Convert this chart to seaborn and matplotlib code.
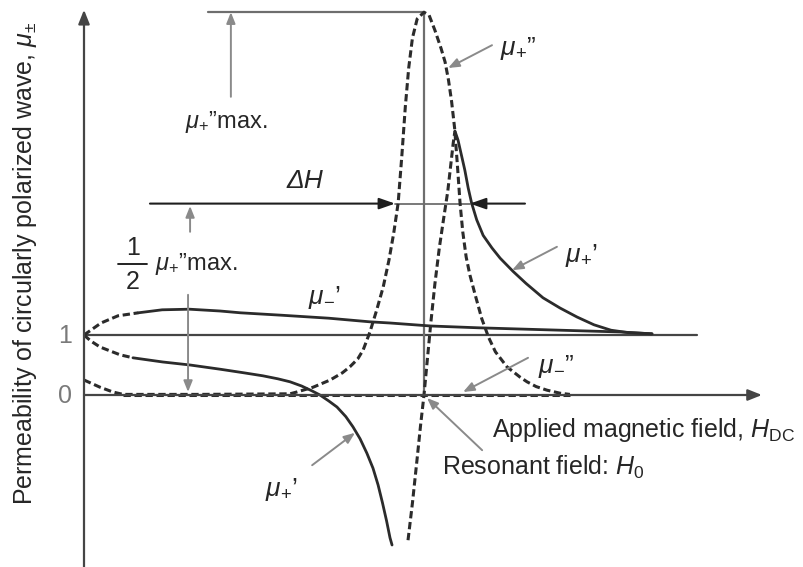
import matplotlib
matplotlib.use("Agg")
import matplotlib.pyplot as plt
import seaborn as sns

# Applied field H (arbitrary units, resonance at H0 = 10) and permeability values
H0 = 10.0

# mu_-' : dashed in the low-field region, solid above it
mu_minus_re_H_low = [0.0, 0.2, 0.5, 1.0, 1.6]
mu_minus_re_low = [1.0, 1.08, 1.2, 1.32, 1.37]
mu_minus_re_H = [1.6, 2.3, 3.1, 4.0, 4.6, 5.8, 7.2, 8.4, 9.0, 10.2, 11.6, 12.8, 14.6, 15.8, 16.7]
mu_minus_re = [1.37, 1.42, 1.43, 1.40, 1.37, 1.33, 1.28, 1.22, 1.20, 1.15, 1.12, 1.10, 1.07, 1.05, 1.02]

# mu_+' below resonance
mu_plus_re_H_low = [0.0, 0.2, 0.47, 1.06, 1.44]
mu_plus_re_low = [1.0, 0.9, 0.80, 0.67, 0.62]
mu_plus_re_below_H = [1.44, 2.32, 3.12, 4.0, 4.7, 5.26, 5.7, 6.06, 6.4, 6.7, 6.94, 7.2, 7.44, 7.7,
                      7.91, 8.12, 8.32, 8.5, 8.65, 8.78, 8.9, 9.0, 9.06]
mu_plus_re_below = [0.62, 0.55, 0.50, 0.43, 0.37, 0.32, 0.27, 0.22, 0.15, 0.07, 0.0, -0.1, -0.2, -0.36,
                    -0.53, -0.73, -0.97, -1.22, -1.5, -1.8, -2.1, -2.38, -2.5]

# mu_+' above resonance: rising branch (dashed) and falling branch (solid)
mu_plus_re_rise_H = [9.53, 9.66, 9.8, 9.9, 10.0, 10.1, 10.2, 10.32, 10.45, 10.58, 10.7, 10.79, 10.86, 10.91]
mu_plus_re_rise = [-2.42, -1.8, -1.05, -0.5, 0.0, 0.6, 1.2, 1.85, 2.45, 2.95, 3.4, 3.85, 4.2, 4.40]
mu_plus_re_fall_H = [10.91, 11.0, 11.1, 11.2, 11.3, 11.4, 11.55, 11.74, 12.0, 12.24, 12.62, 13.0, 13.5,
                     14.0, 14.5, 15.0, 15.5, 16.0, 16.71]
mu_plus_re_fall = [4.40, 4.25, 4.0, 3.75, 3.45, 3.2, 2.92, 2.66, 2.45, 2.28, 2.06, 1.86, 1.62,
                   1.45, 1.3, 1.17, 1.08, 1.04, 1.02]

# mu_+'' : absorption peak at the resonant field
mu_plus_im_H = [0.0, 0.47, 0.85, 1.15, 3.4, 6.06, 6.26, 6.74, 7.24, 7.6, 7.82, 8.05, 8.21, 8.41,
                8.6, 8.8, 8.97, 9.11, 9.24, 9.35, 9.45, 9.55, 9.66, 9.8, 10.0, 10.15, 10.32,
                10.5, 10.62, 10.72, 10.81, 10.9, 10.98, 11.06, 11.14, 11.24, 11.35, 11.5, 11.7,
                11.9, 12.1, 12.44, 12.82, 13.03, 13.3, 13.62, 14.0, 14.29]
mu_plus_im = [0.25, 0.13, 0.05, 0.01, 0.01, 0.02, 0.05, 0.13, 0.25, 0.37, 0.47, 0.6, 0.75, 1.05,
              1.4, 1.8, 2.25, 2.7, 3.2, 4.0, 4.8, 5.45, 5.95, 6.27, 6.38, 6.33, 6.08,
              5.78, 5.55, 5.25, 4.9, 4.45, 3.85, 3.2, 2.72, 2.3, 2.0, 1.68, 1.27,
              0.96, 0.72, 0.47, 0.3, 0.22, 0.14, 0.08, 0.03, 0.01]

# mu_-'' : no absorption for the counter-rotating wave
mu_minus_im_H = [1.15, 14.29]
mu_minus_im = [0.0, 0.0]

tick_values = [0, 1]
tick_labels = ["0", "1"]

sns.set_theme(style="white")
plt.rcParams["font.family"] = ["Liberation Sans", "DejaVu Sans"]
plt.rcParams["mathtext.fontset"] = "custom"
plt.rcParams["mathtext.rm"] = "Liberation Sans"
plt.rcParams["mathtext.it"] = "Liberation Sans:italic"
plt.rcParams["mathtext.bf"] = "Liberation Sans:bold"

CURVE = "#2b2b2b"
AXIS = "#454545"
GUIDE = "#6e6e6e"
ARROW = "#8a8a8a"
DASH = (2.4, 1.2)

fig = plt.figure(figsize=(8.04, 5.67), dpi=100)
ax = fig.add_axes([0, 0, 1, 1])
ax.set_xlim(-84 / 34, 720 / 34)
ax.set_ylim(-172 / 60, 395 / 60)
ax.axis("off")


def curve(h, mu, dashed):
    sns.lineplot(x=h, y=mu, ax=ax, sort=False, estimator=None, color=CURVE,
                 lw=2.2 if dashed else 2.0, legend=False, zorder=4)
    line = ax.get_lines()[-1]
    if dashed:
        line.set_dashes(DASH)
        line.set_dash_capstyle("butt")
    line.set_solid_capstyle("round")
    line.set_solid_joinstyle("round")


def arrow(start, end, color=ARROW, lw=1.4, head="-|>,head_length=0.55,head_width=0.22"):
    ax.annotate("", xy=end, xytext=start,
                arrowprops=dict(arrowstyle=head, color=color, lw=lw,
                                shrinkA=0, shrinkB=0), zorder=5)


def mu_label(h, mu, sub, mark, size=19):
    ax.text(h, mu, r"$\mu_{" + sub + r"}$" + mark, fontsize=size, va="center", ha="left")


mu_max = max(mu_plus_im)

# coordinate axes and reference lines
arrow((0, -172 / 60), (0, 6.42), color=AXIS, lw=1.6, head="-|>,head_length=0.7,head_width=0.28")
arrow((0, 0), (19.94, 0), color=AXIS, lw=1.6, head="-|>,head_length=0.7,head_width=0.28")
ax.plot([0, 18.03], [1, 1], color=AXIS, lw=1.6, zorder=2)
ax.plot([H0, H0], [0, mu_max], color=GUIDE, lw=1.6, zorder=2)
ax.plot([3.65, H0], [mu_max, mu_max], color=GUIDE, lw=1.6, zorder=2)

# curves
curve(mu_minus_im_H, mu_minus_im, True)
curve(mu_plus_im_H, mu_plus_im, True)
curve(mu_minus_re_H_low, mu_minus_re_low, True)
curve(mu_minus_re_H, mu_minus_re, False)
curve(mu_plus_re_H_low, mu_plus_re_low, True)
curve(mu_plus_re_below_H, mu_plus_re_below, False)
curve(mu_plus_re_rise_H, mu_plus_re_rise, True)
curve(mu_plus_re_fall_H, mu_plus_re_fall, False)

# peak height marker
arrow((4.32, 4.97), (4.32, mu_max))
ax.text(2.97, 4.55, r"$\mu_{+}$”max.", fontsize=17, va="center", ha="left")

# linewidth at half maximum
half = mu_max / 2
ax.plot([9.15, 11.35], [half, half], color=GUIDE, lw=1.3, zorder=3)
arrow((1.94, half), (9.15, half), color="#1e1e1e", lw=1.5, head="-|>,head_length=0.8,head_width=0.28")
arrow((12.97, half), (11.35, half), color="#1e1e1e", lw=1.5, head="-|>,head_length=0.8,head_width=0.28")
ax.text(6.5, 3.57, "ΔH", fontsize=19, style="italic", ha="center", va="center")
arrow((3.12, 2.72), (3.12, half - 0.04))
arrow((3.06, 1.67), (3.06, 0.05))

# one half of the peak value, written as a stacked fraction
ax.text(1.44, 2.45, "1", fontsize=18, ha="center", va="center")
ax.text(1.44, 1.88, "2", fontsize=18, ha="center", va="center")
ax.plot([1.0, 1.85], [2.18, 2.18], color="#111111", lw=1.3)
ax.text(2.09, 2.18, r"$\mu_{+}$”max.", fontsize=17, va="center", ha="left")

# curve labels
mu_label(12.24, 5.78, "+", "”")
arrow((12.0, 5.83), (10.71, 5.45))
mu_label(14.15, 2.32, "+", "’")
arrow((13.91, 2.47), (12.59, 2.08))
mu_label(6.59, 1.62, "-", "’")
mu_label(13.35, 0.48, "-", "”")
arrow((13.06, 0.62), (11.15, 0.05))
mu_label(5.32, -1.58, "+", "’")
arrow((6.71, -1.17), (7.97, -0.63))

# axis titles
ax.text(12.0, -0.7, r"Applied magnetic field, $H_{\mathrm{DC}}$", fontsize=18, ha="left", va="baseline")
ax.text(10.53, -1.33, r"Resonant field: $H_{\mathit{0}}$", fontsize=18, ha="left", va="baseline")
arrow((11.71, -0.92), (10.09, -0.05))
ax.text(-1.74, 2.2, r"Permeability of circularly polarized wave, $\mu_{\pm}$", fontsize=18,
        rotation=90, ha="center", va="center")

for v, lab in zip(tick_values, tick_labels):
    ax.text(-0.57, v - 0.02, lab, fontsize=18, color="#7a7a7a", ha="center", va="center")

fig.savefig("out.png", dpi=100)
